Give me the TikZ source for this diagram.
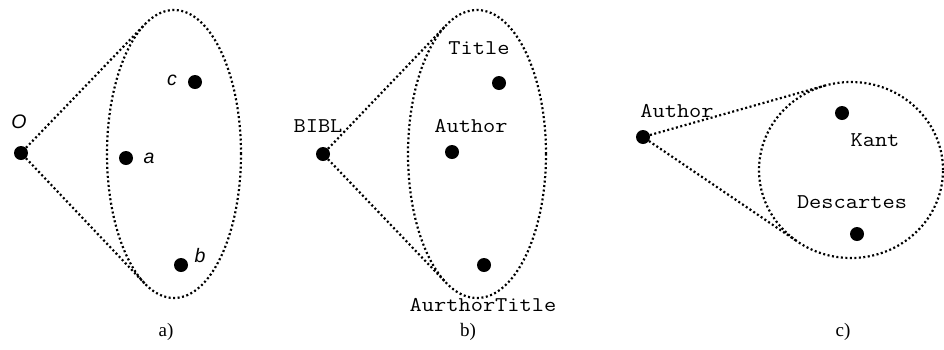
\documentclass[tikz,border=0pt]{standalone}
\usepackage{fontspec}
\usepackage{graphicx}
\setmainfont{Liberation Serif}
\setsansfont{Liberation Sans}
\usetikzlibrary{shapes.geometric}
\newcommand{\mtxt}[1]{\scalebox{1.13}[1]{#1}}
\tikzset{
  x=1pt, y=-1pt,
  dotline/.style={line width=2.2pt, dash pattern=on 2pt off 2.5pt, line cap=butt},
  elli/.style={dotline, draw, ellipse, inner sep=0pt, outer sep=0pt},
  pt/.style={circle, fill=black, minimum size=14pt, inner sep=0pt},
  lbl/.style={inner sep=0pt, font=\sffamily\itshape\fontsize{19.5}{19.5}\selectfont},
  mono/.style={inner sep=0pt, font=\ttfamily\fontsize{21}{21}\selectfont},
  captxt/.style={inner sep=0pt, font=\rmfamily\fontsize{19}{19}\selectfont},
}
\begin{document}
\begin{tikzpicture}
\useasboundingbox (0,0) rectangle (944,349);
% ---- a)
\node[elli, minimum width=134pt, minimum height=288pt] (E1) at (174,154) {};
\node[pt] (O) at (21,153) {};
\node[pt] (pa) at (126,158) {};
\node[pt] (pb) at (181,265) {};
\node[pt] (pc) at (195,82) {};
\node[lbl] (lO) at (19,122) {O};
\node[lbl] (la) at (149,158) {a};
\node[lbl] (lb) at (200,256) {b};
\node[lbl] (lc) at (172,80) {c};
\coordinate (t1u) at (144.8,24.4);
\coordinate (t1d) at (144.5,283.3);
\draw[dotline] (O) -- (t1u);
\draw[dotline] (O) -- (t1d);
\node[captxt] (ca) at (166,332) {a)};
% ---- b)
\node[elli, minimum width=138pt, minimum height=288pt] (E2) at (477,154) {};
\node[pt] (bibl) at (323,154) {};
\node[pt] (ptitle) at (499,83) {};
\node[pt] (pauthor) at (452,152) {};
\node[pt] (pat) at (484,265) {};
\node[mono] (lbibl) at (318,126) {\mtxt{BIBL}};
\node[mono] (ltitle) at (479,48) {\mtxt{Title}};
\node[mono] (lauthor) at (471,126) {\mtxt{Author}};
\node[mono] (lat) at (483,305) {\mtxt{AurthorTitle}};
\coordinate (t2u) at (446.1,25.3);
\coordinate (t2d) at (446.1,282.7);
\draw[dotline] (bibl) -- (t2u);
\draw[dotline] (bibl) -- (t2d);
\node[captxt] (cb) at (468,332) {b)};
% ---- c)
\node[elli, minimum width=184pt, minimum height=176pt] (E3) at (851,170) {};
\node[pt] (auth) at (643,137) {};
\node[pt] (pkant) at (842,113) {};
\node[pt] (pdesc) at (857,234) {};
\node[mono] (lauth) at (677,111) {\mtxt{Author}};
\node[mono] (lkant) at (875,140) {\mtxt{Kant}};
\node[mono] (ldesc) at (852,202) {\mtxt{Descartes}};
\coordinate (t3u) at (824.9,85.6);
\coordinate (t3d) at (797.8,241.8);
\draw[dotline] (auth) -- (t3u);
\draw[dotline] (auth) -- (t3d);
\node[captxt] (cc) at (843,332) {c)};
\end{tikzpicture}
\end{document}
